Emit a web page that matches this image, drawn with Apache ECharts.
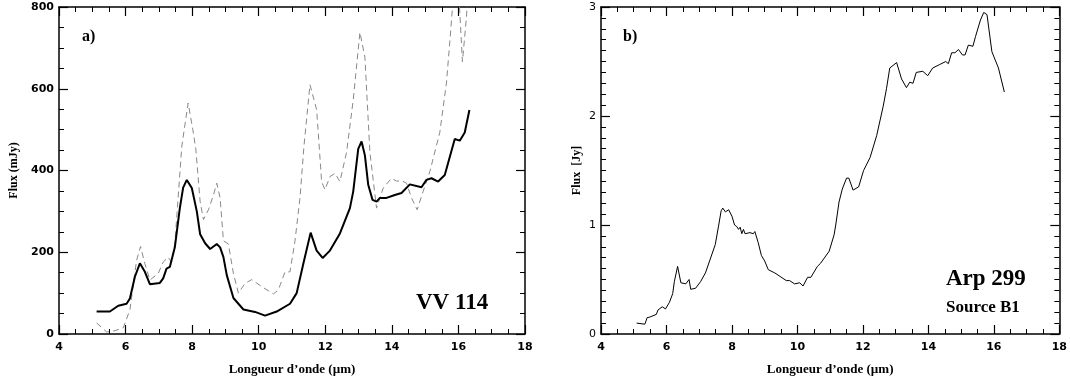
<!DOCTYPE html>
<html>
<head>
<meta charset="utf-8">
<script src="https://cdn.jsdelivr.net/npm/echarts@6/dist/echarts.min.js"></script>
<style>
html,body{margin:0;padding:0;background:#fff;}
#c{width:1070px;height:381px;}
</style>
</head>
<body>
<div id="c"></div>
<script>
// ---- Panel a) VV 114 ----
const vvSolidWave = [5.13,5.53,5.78,6.03,6.13,6.28,6.43,6.58,6.73,7.03,7.13,7.23,7.33,7.48,7.63,7.73,7.84,7.99,8.14,8.24,8.39,8.54,8.64,8.74,8.84,8.94,9.04,9.24,9.54,9.89,10.19,10.54,10.94,11.14,11.34,11.56,11.74,11.92,12.14,12.44,12.74,12.84,12.99,13.09,13.19,13.29,13.42,13.54,13.64,13.84,14.09,14.29,14.54,14.89,15.04,15.19,15.39,15.59,15.89,16.04,16.19,16.33];
const vvSolidFlux = [55,55,69,74,87,140,173,152,122,125,136,160,164,212,308,358,377,357,300,244,222,208,214,220,212,188,144,88,60,54,45,55,74,100,172,248,204,186,204,246,308,349,453,471,437,365,328,324,333,333,340,345,366,359,377,381,373,389,477,473,493,548];

const vvDashWave = [5.13,5.43,5.63,5.93,6.13,6.33,6.45,6.58,6.73,6.98,7.13,7.28,7.38,7.48,7.69,7.88,8.02,8.11,8.24,8.34,8.49,8.64,8.74,8.84,8.94,9.09,9.24,9.39,9.59,9.79,10.09,10.44,10.59,10.79,10.94,11.09,11.24,11.36,11.54,11.74,11.89,11.99,12.14,12.29,12.44,12.64,12.84,13.04,13.19,13.34,13.54,13.74,13.99,14.14,14.29,14.44,14.59,14.76,14.94,15.14,15.44,15.64,15.76,15.88,15.98,16.04,16.12,16.24,16.32];
const vvDashFlux = [27,5,7,15,59,180,214,172,132,148,176,188,176,220,460,565,500,453,324,280,304,340,369,333,228,220,148,100,124,133,116,98,108,152,152,228,333,460,610,549,373,353,385,393,373,445,573,738,678,445,308,357,381,374,375,369,333,304,349,397,493,614,734,860,850,790,666,774,880];

// ---- Panel b) Arp 299 Source B1 ----
const arpWave = [5.09,5.34,5.41,5.49,5.69,5.74,5.79,5.87,5.97,6.09,6.19,6.24,6.34,6.44,6.59,6.69,6.74,6.89,7.04,7.19,7.49,7.59,7.67,7.72,7.80,7.90,8.00,8.08,8.15,8.20,8.25,8.30,8.35,8.40,8.45,8.55,8.65,8.70,8.80,8.90,9.00,9.11,9.31,9.66,9.76,9.91,10.07,10.17,10.31,10.41,10.61,10.71,10.97,11.12,11.17,11.27,11.37,11.50,11.57,11.70,11.87,12.02,12.22,12.42,12.62,12.72,12.82,13.03,13.18,13.33,13.43,13.53,13.63,13.83,13.98,14.13,14.33,14.53,14.61,14.71,14.81,14.92,15.04,15.12,15.22,15.36,15.44,15.59,15.69,15.79,15.94,16.14,16.32];
const arpFlux = [0.10,0.09,0.15,0.155,0.18,0.22,0.21,0.25,0.23,0.29,0.37,0.48,0.62,0.47,0.46,0.50,0.41,0.42,0.48,0.56,0.82,0.99,1.13,1.155,1.12,1.14,1.08,1.00,0.985,0.96,0.98,0.92,0.96,0.92,0.93,0.93,0.92,0.94,0.84,0.72,0.67,0.59,0.56,0.49,0.49,0.46,0.47,0.44,0.52,0.52,0.62,0.65,0.76,0.91,1.00,1.21,1.33,1.43,1.43,1.32,1.35,1.50,1.62,1.82,2.09,2.25,2.44,2.49,2.34,2.26,2.31,2.30,2.40,2.41,2.37,2.44,2.47,2.50,2.48,2.58,2.58,2.61,2.56,2.56,2.65,2.64,2.73,2.88,2.95,2.93,2.59,2.44,2.22];

const xTicks = [4,6,8,10,12,14,16,18];

const zip = (a,b) => a.map((v,i)=>[v,b[i]]);

const chart = echarts.init(document.getElementById('c'), null, {renderer:'canvas'});

const serif = 'Liberation Serif';
const sans = 'DejaVu Sans';
const lineStyleAxis = {color:'#000', width:1.5};

function xAx(grid, pos, showLabel, bold){
  return {
    type:'value', gridIndex:grid, position:pos, min:xTicks[0], max:xTicks[xTicks.length-1], interval:2,
    axisLine:{show:true, onZero:false, lineStyle:lineStyleAxis},
    axisTick:{show:true, inside:true, length:9, lineStyle:{color:'#000', width:1.2}},
    minorTick:{show:true, splitNumber:4, length:5, lineStyle:{color:'#000', width:1}},
    splitLine:{show:false}, minorSplitLine:{show:false},
    axisLabel:{show:showLabel, color:'#000', fontFamily:sans, fontWeight:bold?'bold':'normal', fontSize:11, margin:8},
    name: showLabel ? 'Longueur d\u2019onde (\u00b5m)' : '',
    nameLocation:'middle', nameGap:29,
    nameTextStyle:{color:'#000', fontFamily:serif, fontWeight:'bold', fontSize:13}
  };
}
function yAx(grid, pos, showLabel, min, max, interval, minorSplit, name, nameGap, bold, labelMargin){
  return {
    type:'value', gridIndex:grid, position:pos, min:min, max:max, interval:interval,
    axisLine:{show:true, onZero:false, lineStyle:lineStyleAxis},
    axisTick:{show:true, inside:true, length:9, lineStyle:{color:'#000', width:1.2}},
    minorTick:{show:true, splitNumber:minorSplit, length:5, lineStyle:{color:'#000', width:1}},
    splitLine:{show:false}, minorSplitLine:{show:false},
    axisLabel:{show:showLabel, color:'#000', fontFamily:sans, fontWeight:bold?'bold':'normal', fontSize:11, margin:labelMargin},
    name: showLabel ? name : '',
    nameLocation:'middle', nameGap:nameGap, nameRotate:90,
    nameTextStyle:{color:'#000', fontFamily:serif, fontWeight:'bold', fontSize:12}
  };
}

chart.setOption({
  backgroundColor:'#fff',
  animation:false,
  grid:[
    {left:59, top:7, width:466, height:331},
    {left:601, top:7, width:464, height:330}
  ],
  xAxis:[
    xAx(0,'bottom',true,true),
    xAx(0,'top',false,true),
    xAx(1,'bottom',true,true),
    xAx(1,'top',false,true)
  ],
  yAxis:[
    yAx(0,'left',true,0,800,200,4,'Flux (mJy)',39,true,5),
    yAx(0,'right',false,0,800,200,4,'',0,true,5),
    yAx(1,'left',true,0,3,1,10,'Flux  [Jy]',18,false,5),
    yAx(1,'right',false,0,3,1,10,'',0,false,5)
  ],
  series:[
    {type:'line', xAxisIndex:0, yAxisIndex:0, data:zip(vvDashWave,vvDashFlux), showSymbol:false, clip:true,
     lineStyle:{color:'#888', width:1, type:[6,4]}},
    {type:'line', xAxisIndex:0, yAxisIndex:0, data:zip(vvSolidWave,vvSolidFlux), showSymbol:false, clip:true,
     lineStyle:{color:'#000', width:2}},
    {type:'line', xAxisIndex:2, yAxisIndex:2, data:zip(arpWave,arpFlux), showSymbol:false, clip:true,
     lineStyle:{color:'#000', width:1}}
  ],
  graphic:[
    {type:'text', left:82, top:29, style:{text:'a)', fill:'#000', font:'bold 16px "Liberation Serif"'}},
    {type:'text', left:416, top:292, style:{text:'VV 114', fill:'#000', font:'bold 23px "Liberation Serif"'}},
    {type:'text', left:623, top:29, style:{text:'b)', fill:'#000', font:'bold 16px "Liberation Serif"'}},
    {type:'text', left:946, top:268, style:{text:'Arp 299', fill:'#000', font:'bold 23px "Liberation Serif"'}},
    {type:'text', left:946, top:299, style:{text:'Source B1', fill:'#000', font:'bold 17px "Liberation Serif"'}}
  ]
});
</script>
</body>
</html>
